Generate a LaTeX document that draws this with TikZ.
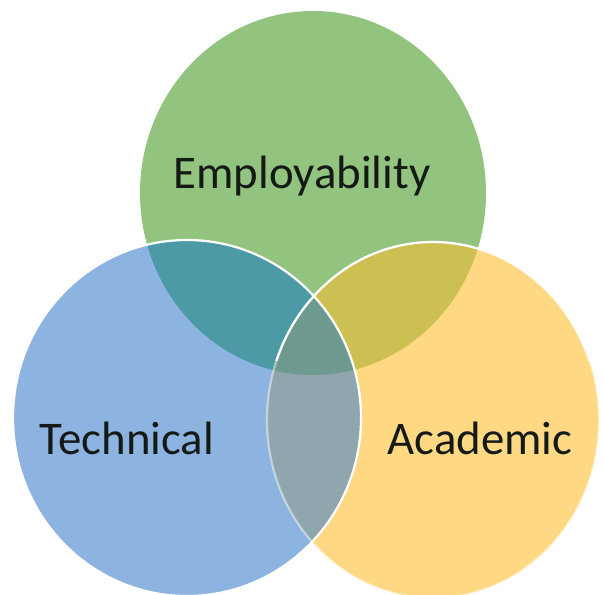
\documentclass[tikz,border=0pt]{standalone}
\usepackage{fontspec}
\setmainfont{Carlito}
\usepackage{xcolor}
\usepackage{tikz}
\definecolor{venngreen}{HTML}{93C47F}
\definecolor{vennblue}{HTML}{8DB3E0}
\definecolor{vennyellow}{HTML}{FFD883}
\definecolor{venngb}{HTML}{4B9AA6}
\definecolor{venngy}{HTML}{CCC053}
\definecolor{vennby}{HTML}{90A6AE}
\definecolor{venncore}{HTML}{6E998E}
\definecolor{venntext}{HTML}{151A17}
\tikzset{
  lbl/.style={font=\fontsize{47}{54}\selectfont,text=venntext,inner sep=0pt,anchor=base},
  rim/.style={draw=white,line width=2.2bp},
}
\newcommand{\vennG}{(313,193) ellipse [x radius=173,y radius=182]}
\newcommand{\vennB}{(187,418) ellipse [x radius=174,y radius=178]}
\newcommand{\vennY}{(433,420) ellipse [x radius=166,y radius=178]}

\begin{document}
\begin{tikzpicture}[x=1bp,y=-1bp]
  \useasboundingbox (0,0) rectangle (603,595);
  \fill[venngreen] \vennG;
  \fill[vennblue] \vennB;
  \fill[vennyellow] \vennY;
  % overlaps
  \begin{scope}\clip \vennG; \fill[venngb] \vennB; \end{scope}
  \begin{scope}\clip \vennG; \fill[venngy] \vennY; \end{scope}
  \begin{scope}\clip \vennB; \fill[vennby] \vennY; \end{scope}
  \begin{scope}\clip \vennG; \clip \vennB; \fill[venncore] \vennY; \end{scope}
  % rims
  \draw[rim,draw opacity=0.45] \vennY;
  \draw[rim] \vennB;
  \begin{scope}\clip (0,0) rectangle (603,360); \draw[rim] \vennY; \end{scope}
  \node[lbl] (emp) at (302,188) {Employability};
  \node[lbl] (tech) at (127,454) {Technical};
  \node[lbl] (acad) at (480,454) {Academic};
\end{tikzpicture}
\end{document}
